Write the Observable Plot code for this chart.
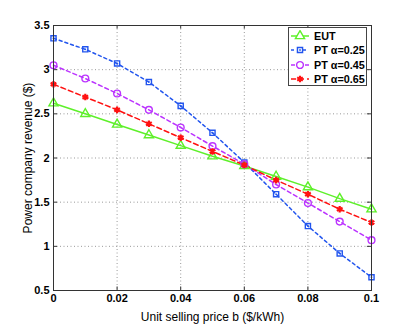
<!DOCTYPE html>
<html>
<head>
<meta charset="utf-8">
<script src="https://cdn.jsdelivr.net/npm/d3@7"></script>
<script src="https://cdn.jsdelivr.net/npm/@observablehq/plot@0.6"></script>
<style>
  html, body { margin: 0; padding: 0; background: #fff; }
  #wrap { position: relative; width: 409px; height: 327px; font-family: "Liberation Sans", Arial, sans-serif; }
  #legend { position: absolute; left: 288px; top: 27px; width: 79px; height: 59px; border: 1px solid #444; background: #fff; box-sizing: border-box; padding-top: 0.5px; }
  .row { display: flex; align-items: center; height: 14.5px; font-weight: bold; font-size: 10.8px; color: #000; }
  .row svg { margin-left: 1px; margin-right: 4px; }
</style>
</head>
<body>
<div id="wrap"></div>
<script>
const prices = [0, 0.01, 0.02, 0.03, 0.04, 0.05, 0.06, 0.07, 0.08, 0.09, 0.1];
const eut  = [2.62, 2.50, 2.38, 2.26, 2.14, 2.02, 1.91, 1.79, 1.67, 1.54, 1.42];
const pt25 = [3.355, 3.23, 3.07, 2.86, 2.59, 2.285, 1.95, 1.59, 1.23, 0.92, 0.65];
const pt45 = [3.05, 2.90, 2.73, 2.545, 2.345, 2.135, 1.93, 1.70, 1.49, 1.28, 1.07];
const pt65 = [2.835, 2.69, 2.545, 2.387, 2.23, 2.074, 1.92, 1.75, 1.59, 1.42, 1.27];
const seriesNames = ["EUT", "PT α=0.25", "PT α=0.45", "PT α=0.65"];
const xTicks = [0, 0.02, 0.04, 0.06, 0.08, 0.1];
const yTicks = [0.5, 1, 1.5, 2, 2.5, 3, 3.5];

const styles = [
  {color: "#5ef02a", dash: null, symbol: "triangle", r: 3.4, sw: 1.4},
  {color: "#2255ee", dash: "3,3", symbol: "square", r: 2.9, sw: 1.4},
  {color: "#bb33ff", dash: "4,3", symbol: "circle", r: 3.4, sw: 1.4},
  {color: "#ff1111", dash: "5,3", symbol: "asterisk", r: 3.1, sw: 2.2}
];
const allSeries = [eut, pt25, pt45, pt65];
const tables = allSeries.map(vals => prices.map((p, i) => ({x: p, y: vals[i]})));

const marks = [
  Plot.gridX(xTicks, {stroke: "#999", strokeOpacity: 1, strokeDasharray: "1,2.5"}),
  Plot.gridY(yTicks, {stroke: "#999", strokeOpacity: 1, strokeDasharray: "1,2.5"}),
  Plot.ruleX(xTicks, {y1: 0.5, y2: 0.54, stroke: "#333"}),
  Plot.ruleX(xTicks, {y1: 3.46, y2: 3.5, stroke: "#333"}),
  Plot.ruleY(yTicks, {x1: 0, x2: 0.0013, stroke: "#333"}),
  Plot.ruleY(yTicks, {x1: 0.0987, x2: 0.1, stroke: "#333"})
];
tables.forEach((t, k) => {
  const s = styles[k];
  marks.push(Plot.line(t, {x: "x", y: "y", stroke: s.color, strokeWidth: 1.5, strokeDasharray: s.dash}));
});
tables.forEach((t, k) => {
  const s = styles[k];
  marks.push(Plot.dot(t, {x: "x", y: "y", stroke: s.color, fill: "none", symbol: s.symbol, r: s.r, strokeWidth: s.sw}));
  if (k === 1) marks.push(Plot.dot(t, {x: "x", y: "y", fill: s.color, symbol: "square", r: 0.9}));
});
marks.push(Plot.frame({stroke: "#333", strokeWidth: 1}));

const chart = Plot.plot({
  width: 409,
  height: 327,
  marginLeft: 53,
  marginRight: 38,
  marginTop: 25,
  marginBottom: 37,
  style: {fontFamily: "Liberation Sans, Arial, sans-serif", background: "#fff"},
  x: {domain: [0, 0.1], ticks: xTicks, tickSize: 0, tickPadding: 4, tickFormat: d => d === 0 ? "0" : String(d), label: "Unit selling price b ($/kWh)", labelAnchor: "center", labelOffset: 30, labelArrow: "none"},
  y: {domain: [0.5, 3.5], ticks: yTicks, tickSize: 0, tickPadding: 4, tickFormat: d => String(d), label: "Power company revenue ($)", labelAnchor: "center", labelOffset: 30, labelArrow: "none"},
  marks
});
const svg = d3.select(chart);
svg.selectAll("[aria-label='x-axis tick label'] text, [aria-label='y-axis tick label'] text").attr("font-weight", "bold").attr("font-size", 11).attr("fill", "#000");
svg.selectAll("[aria-label='x-axis label'] text, [aria-label='y-axis label'] text").attr("font-size", 12).attr("fill", "#000");
document.getElementById("wrap").appendChild(chart);

// legend
const leg = document.createElement("div");
leg.id = "legend";
seriesNames.forEach((name, k) => {
  const s = styles[k];
  const row = document.createElement("div");
  row.className = "row";
  const sv = d3.create("svg").attr("width", 20).attr("height", 12);
  sv.append("line").attr("x1", 1).attr("x2", 19).attr("y1", 6).attr("y2", 6)
    .attr("stroke", s.color).attr("stroke-width", 1.5).attr("stroke-dasharray", s.dash);
  const sym = {triangle: d3.symbolTriangle, square: d3.symbolSquare, circle: d3.symbolCircle, asterisk: d3.symbolAsterisk}[s.symbol];
  const size = Math.PI * s.r * s.r;
  sv.append("path").attr("d", d3.symbol(sym, size)()).attr("transform", "translate(10,6)")
    .attr("fill", s.symbol === "asterisk" ? "none" : "#fff").attr("stroke", s.color).attr("stroke-width", s.sw);
  if (k === 1) sv.append("rect").attr("x", 9.2).attr("y", 5.2).attr("width", 1.6).attr("height", 1.6).attr("fill", s.color);
  row.appendChild(sv.node());
  const span = document.createElement("span");
  span.textContent = name;
  row.appendChild(span);
  leg.appendChild(row);
});
document.getElementById("wrap").appendChild(leg);
</script>
</body>
</html>
